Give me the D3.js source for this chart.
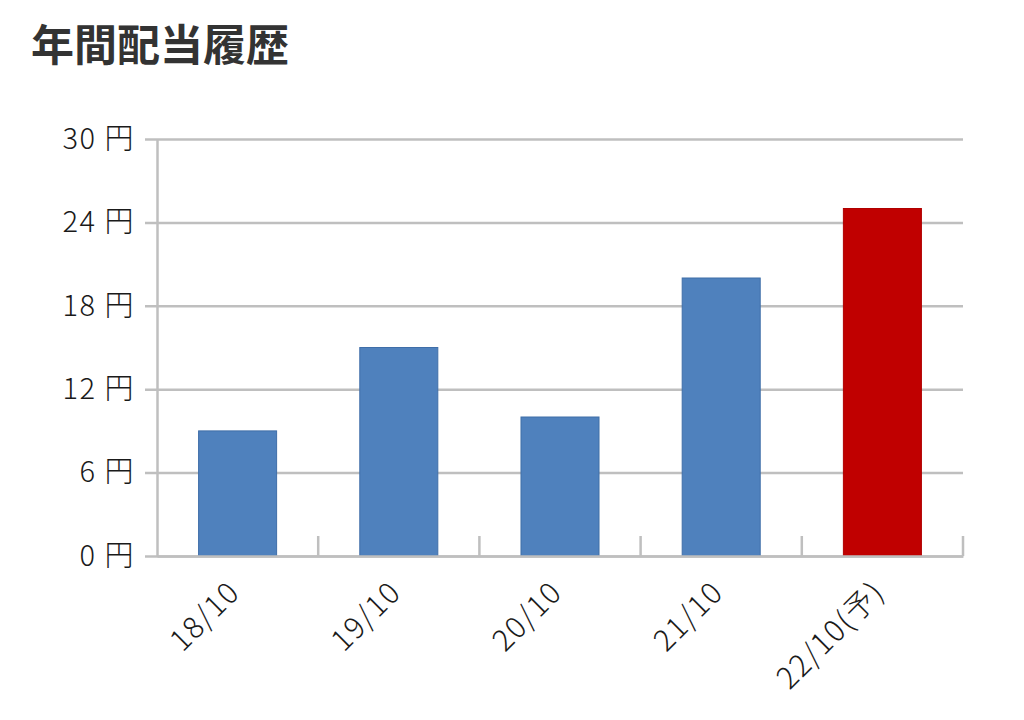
<!DOCTYPE html>
<html><head><meta charset="utf-8">
<script src="https://cdn.jsdelivr.net/npm/d3@7"></script>
<style>
html,body{margin:0;padding:0;background:#fff;}
svg{display:block;}
text{font-family:"Noto Sans CJK JP","Noto Sans",sans-serif;}
</style></head>
<body>
<svg id="chart" width="1024" height="720"></svg>
<script>
const title = "年間配当履歴";
const categories = ["18/10", "19/10", "20/10", "21/10", "22/10(予)"];
const dividends = [9, 15, 10, 20, 25];
const barColors = ["#4F81BD", "#4F81BD", "#4F81BD", "#4F81BD", "#C00000"];
const yTicks = [0, 6, 12, 18, 24, 30];
const yUnit = "円";

const svg = d3.select("#chart");
const mLeft = 157, mRight = 963, mTop = 139, mBottom = 556;

svg.append("text").attr("x", 31).attr("y", 61)
  .attr("font-size", 43).attr("font-weight", 700).attr("fill", "#333")
  .text(title);

const x = d3.scaleBand().domain(categories).range([mLeft, mRight])
  .paddingInner(0.516).paddingOuter(0.258);
const y = d3.scaleLinear().domain([0, 30]).range([mBottom, mTop]);

// gridlines + y axis
const yAxis = d3.axisLeft(y).tickValues(yTicks).tickSize(12).tickSizeOuter(0)
  .tickFormat(d => d + " " + yUnit).tickPadding(10);
const gy = svg.append("g").attr("transform", `translate(${mLeft},0)`).call(yAxis);
gy.select(".domain").attr("stroke", "#bfbfbf").attr("stroke-width", 2.5);
gy.selectAll(".tick line").attr("stroke", "#bfbfbf").attr("stroke-width", 2.5)
  .attr("x2", mRight - mLeft).attr("x1", -12);
gy.selectAll(".tick text").attr("font-size", 29).attr("fill", "#1a1a1a")
  .attr("letter-spacing", 1.5).attr("font-weight", 300);

// bars
svg.append("g").selectAll("rect").data(categories).join("rect")
  .attr("x", d => x(d))
  .attr("y", (d, i) => y(dividends[i]))
  .attr("width", x.bandwidth())
  .attr("height", (d, i) => y(0) - y(dividends[i]))
  .attr("fill", (d, i) => barColors[i])
  .attr("stroke", (d, i) => i === 4 ? "#b00000" : "#3f6ea8")
  .attr("stroke-width", 1);

// x axis
const xAxis = d3.axisBottom(x).tickSize(0).tickPadding(0);
const gx = svg.append("g").attr("transform", `translate(0,${mBottom})`).call(xAxis);
gx.select(".domain").attr("stroke", "#bfbfbf").attr("stroke-width", 2.5);
gx.selectAll(".tick text")
  .attr("font-size", 30).attr("fill", "#1a1a1a").attr("font-weight", 300)
  .attr("letter-spacing", 1.5)
  .attr("text-anchor", "end")
  .attr("transform", "translate(4,38) rotate(-45)")
  .attr("dy", 0);
// category separator ticks
const step = x.step();
const sep = d3.range(categories.length + 1).map(i => mLeft + i * step).slice(1);
gx.selectAll("line.sep").data(sep).join("line").attr("class", "sep")
  .attr("x1", d => d).attr("x2", d => d).attr("y1", 0).attr("y2", -20)
  .attr("stroke", "#bfbfbf").attr("stroke-width", 2.5);
</script>
</body></html>
